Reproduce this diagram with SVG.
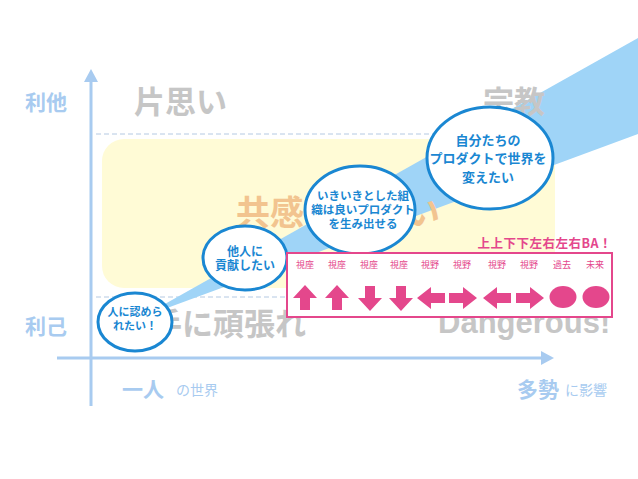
<svg xmlns="http://www.w3.org/2000/svg" width="638" height="479" viewBox="0 0 638 479">
<defs>
<style>
.jp{font-family:"Noto Sans CJK JP","Noto Sans CJK SC",sans-serif}
.big{font-weight:bold;fill:#c6c6c6;font-size:31px}
.axl{font-weight:bold;fill:#a8cbf0;font-size:21px}
.axs{fill:#a8cbf0;font-size:14px}
.bub{fill:#ffffff;stroke:#1a87d2;stroke-width:3}
.bt{font-weight:bold;fill:#1a87d2;text-anchor:middle}
.pk{fill:#e4478c}
.pl{fill:#e4478c;font-size:9px;text-anchor:middle}
.dash{stroke:#b4c9e2;stroke-width:1;stroke-dasharray:5 3;fill:none}
.axis{stroke:#a8cbf0;stroke-width:3;fill:none}
</style>
<path id="up" d="M0,-13 L12,0 L5,0 L5,12 L-5,12 L-5,0 L-12,0 Z"/>
<path id="lf" d="M-14,0 L0,-11 L0,-5 L14,-5 L14,5 L0,5 L0,11 Z"/>
</defs>
<rect width="638" height="479" fill="#ffffff"/>

<g id="zone">
<rect x="102" y="139" width="453" height="149" rx="22" fill="#fffbd6"/>
<line class="dash" x1="96" y1="134" x2="555" y2="134"/>
<line class="dash" x1="96" y1="297" x2="555" y2="297"/>
</g>

<g id="band">
<polygon points="140,318 638,38 638,134" fill="#9fd4f7"/>
</g>

<g id="quadrant-labels" class="jp">
<text class="big" x="134" y="113">片思い</text>
<text class="big" x="483" y="113">宗教</text>
<text x="236" y="225" font-size="34" font-weight="bold" fill="#f2c48f">共感されたい</text>
<text class="big" x="120" y="335" font-size="32">勝手に頑張れ</text>
<text class="big" x="438" y="333" font-size="29" style="font-family:'Liberation Sans',sans-serif">Dangerous!</text>
</g>

<g id="bubble1">
<ellipse class="bub" cx="135" cy="322" rx="37" ry="29"/>
<text class="jp bt" font-size="11"><tspan x="135" y="316">人に認めら</tspan><tspan x="135" y="330">れたい！</tspan></text>
</g>
<g id="bubble2">
<ellipse class="bub" cx="245" cy="258" rx="42" ry="32"/>
<text class="jp bt" font-size="12"><tspan x="245" y="256">他人に</tspan><tspan x="245" y="270">貢献したい</tspan></text>
</g>
<g id="bubble3">
<ellipse class="bub" cx="360" cy="210" rx="55" ry="44"/>
<text class="jp bt" font-size="11.5"><tspan x="363" y="200">いきいきとした組</tspan><tspan x="363" y="214">織は良いプロダクト</tspan><tspan x="363" y="228">を生み出せる</tspan></text>
</g>
<g id="bubble4">
<ellipse class="bub" cx="490" cy="158" rx="63" ry="51"/>
<text class="jp bt" font-size="13"><tspan x="488" y="145">自分たちの</tspan><tspan x="488" y="163">プロダクトで世界を</tspan><tspan x="488" y="182">変えたい</tspan></text>
</g>

<g id="konami">
<text class="jp" x="612" y="248" text-anchor="end" font-size="12.5" font-weight="bold" fill="#e4478c" letter-spacing="0.5">上上下下左右左右BA！</text>
<rect x="287" y="253" width="325" height="64" fill="#ffffff" stroke="#e4478c" stroke-width="2"/>
<g class="jp pl">
<text x="305" y="268">視座</text>
<text x="337" y="268">視座</text>
<text x="369" y="268">視座</text>
<text x="399" y="268">視座</text>
<text x="430" y="268">視野</text>
<text x="462" y="268">視野</text>
<text x="497" y="268">視野</text>
<text x="529" y="268">視野</text>
<text x="562" y="268">過去</text>
<text x="595" y="268">未来</text>
</g>
<g class="pk">
<use href="#up" transform="translate(305,298)"/>
<use href="#up" transform="translate(337,298)"/>
<use href="#up" transform="translate(370,298) rotate(180)"/>
<use href="#up" transform="translate(401,298) rotate(180)"/>
<use href="#lf" transform="translate(431,298)"/>
<use href="#lf" transform="translate(463,298) scale(-1,1)"/>
<use href="#lf" transform="translate(497,298)"/>
<use href="#lf" transform="translate(530,298) scale(-1,1)"/>
<ellipse cx="563" cy="297" rx="13.5" ry="11"/>
<ellipse cx="596" cy="297" rx="13.5" ry="11"/>
</g>
</g>

<g id="axes">
<line class="axis" x1="91" y1="406" x2="91" y2="80"/>
<polygon points="91,69 98,82 84,82" fill="#a8cbf0"/>
<line class="axis" x1="57" y1="358" x2="542" y2="358"/>
<polygon points="554,358 541,351 541,365" fill="#a8cbf0"/>
</g>

<g id="axis-labels" class="jp">
<text class="axl" x="25" y="110">利他</text>
<text class="axl" x="25" y="334">利己</text>
<text class="axl" x="122" y="397">一人</text>
<text class="axs" x="176" y="395">の世界</text>
<text class="axl" x="517" y="397">多勢</text>
<text class="axs" x="565" y="395">に影響</text>
</g>
</svg>
